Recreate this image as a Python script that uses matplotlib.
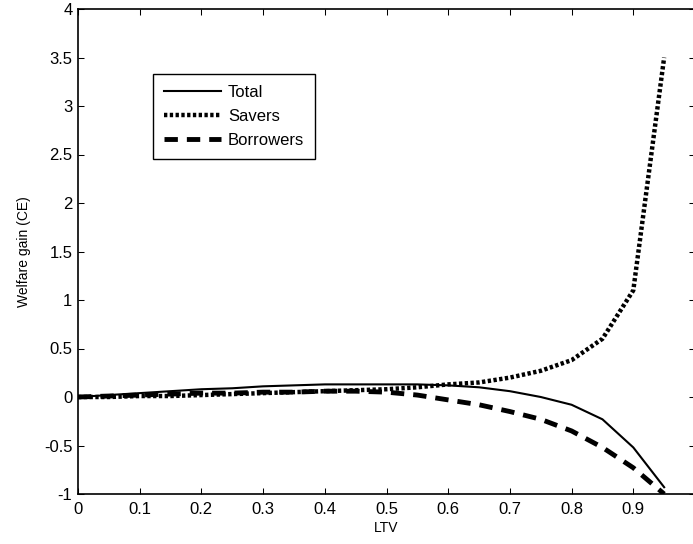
import numpy as np
import matplotlib.pyplot as plt

plt.rcParams['font.family'] = ['Liberation Sans', 'DejaVu Sans']

# datos
ltv = [0.00, 0.05, 0.10, 0.15, 0.20, 0.25, 0.30, 0.35, 0.40, 0.45,
       0.50, 0.55, 0.60, 0.65, 0.70, 0.75, 0.80, 0.85, 0.90, 0.95]
total = [0.00, 0.02, 0.04, 0.06, 0.08, 0.09, 0.11, 0.12, 0.13, 0.13,
         0.13, 0.13, 0.12, 0.10, 0.06, 0.00, -0.08, -0.23, -0.52, -0.93]
savers = [0.00, 0.00, 0.01, 0.01, 0.02, 0.03, 0.04, 0.05, 0.06, 0.07,
          0.08, 0.10, 0.13, 0.15, 0.20, 0.27, 0.38, 0.60, 1.10, 3.50]
borrowers = [0.00, 0.01, 0.02, 0.03, 0.04, 0.04, 0.05, 0.05, 0.06, 0.06,
             0.05, 0.02, -0.03, -0.08, -0.15, -0.23, -0.35, -0.52, -0.73, -1.00]

fig = plt.figure(figsize=(6.93, 5.44), dpi=100)
ax = fig.add_axes([78/693, 50/544, 617/693, 485/544])

ax.plot(ltv, total, color='black', lw=1.5, label='Total')
ax.plot(ltv, savers, color='black', lw=3.2, linestyle=(0, (0.75, 0.55)), label='Savers')
ax.plot(ltv, borrowers, color='black', lw=3.5, linestyle=(0, (2.75, 1.85)), label='Borrowers')

ax.set_xlim(0, 1)
ax.set_ylim(-1, 4)
ax.set_xticks(np.arange(0, 1.0, 0.1))
ax.set_xticklabels(['0', '0.1', '0.2', '0.3', '0.4', '0.5', '0.6', '0.7', '0.8', '0.9'])
ax.set_yticks(np.arange(-1, 4.01, 0.5))
ax.set_yticklabels(['-1', '-0.5', '0', '0.5', '1', '1.5', '2', '2.5', '3', '3.5', '4'])
ax.tick_params(direction='in', top=True, right=True, length=4, width=0.75,
               labelsize=12)
ax.tick_params(axis='x', pad=6)
ax.tick_params(axis='y', pad=4)
for s in ax.spines.values():
    s.set_linewidth(1.2)

ax.set_xlabel('LTV', fontsize=10, labelpad=3)
ax.set_ylabel('Welfare gain (CE)', fontsize=10, labelpad=9)

leg = ax.legend(loc='upper left', bbox_to_anchor=(75/617, 1 - 65/485),
                fontsize=12, frameon=True, fancybox=False, framealpha=1,
                edgecolor='black', handlelength=3.4, borderpad=0.65,
                labelspacing=0.55, handletextpad=0.45, borderaxespad=0)
leg.get_frame().set_linewidth(1.0)

fig.savefig('out.png', dpi=100)
